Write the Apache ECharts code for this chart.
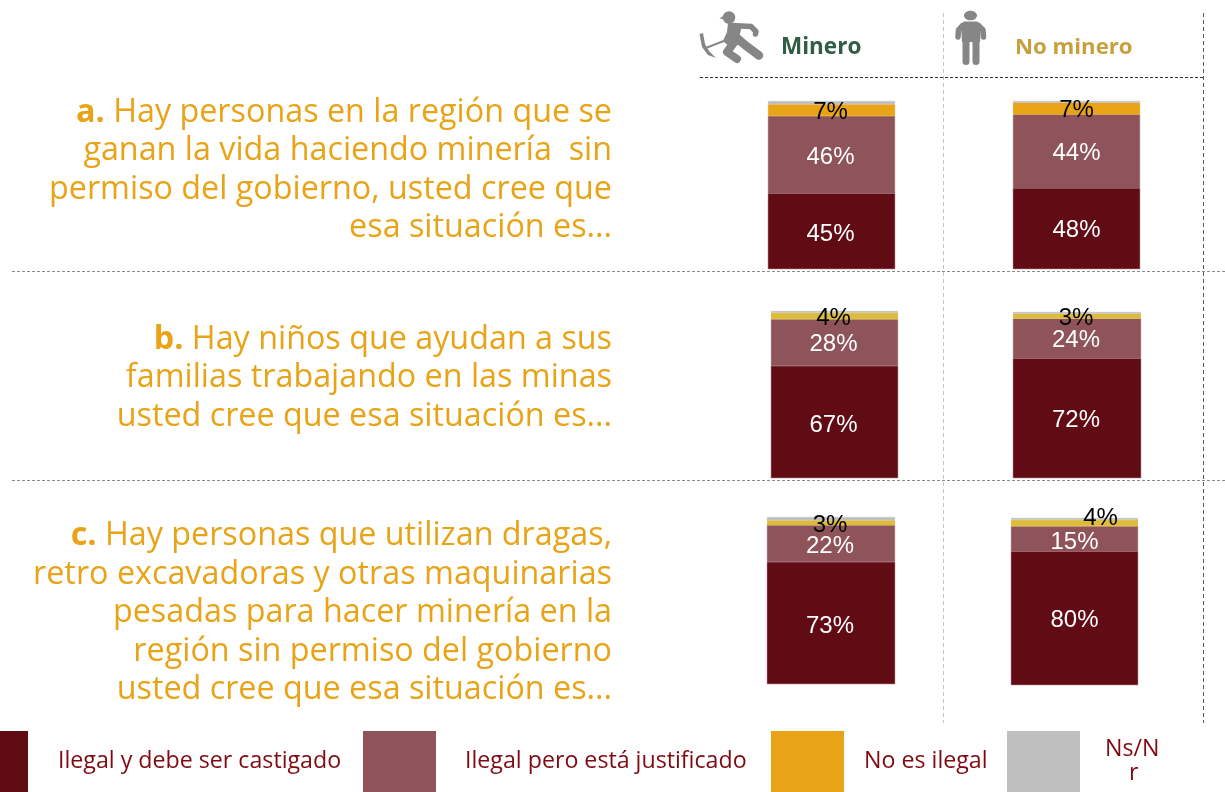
<!DOCTYPE html>
<html><head><meta charset="utf-8">
<style>html,body{margin:0;padding:0;background:#fff}#c{width:1225px;height:792px}</style>
<script src="https://cdn.jsdelivr.net/npm/echarts@6/dist/echarts.min.js"></script>
</head><body><div id="c"></div>
<script>
const seriesNames = ['Ilegal y debe ser castigado','Ilegal pero está justificado','No es ilegal','Ns/Nr'];
const categories = ['Minero','No minero'];
const aMinero = [45,46,7,2];
const aNoMinero = [48,44,7,1];
const bMinero = [67,28,4,1];
const bNoMinero = [72,24,3,1];
const cMinero = [73,22,3,2];
const cNoMinero = [80,15,4,1];
const colors = ['#610B15','#8F545A','#E8A317','#BFBFBF'];
const yellow = '#DDBB3B';
const questionA = ['a.|Hay personas en la región que se','ganan la vida haciendo minería  sin','permiso del gobierno, usted cree que','esa situación es...'];
const questionB = ['b.|Hay niños que ayudan a sus','familias trabajando en las minas','usted cree que esa situación es...'];
const questionC = ['c.|Hay personas que utilizan dragas,','retro excavadoras y otras maquinarias','pesadas para hacer minería en la','región sin permiso del gobierno','usted cree que esa situación es...'];

const panels = [
 {cat:0,vals:aMinero,box:[768,101,127,168],third:colors[2],wide:0,off:[[-1,3],[-1,3],[-1,2]]},
 {cat:1,vals:aNoMinero,box:[1013,101,127,168],third:colors[2],wide:0,off:[[0,2],[0,2],[0,2]]},
 {cat:0,vals:bMinero,box:[771,311,127,167],third:yellow,wide:1,off:[[-1,3],[-1,2],[-1,2]]},
 {cat:1,vals:bNoMinero,box:[1013,312,128,166],third:yellow,wide:0,off:[[-1,2],[-1,2],[-1,2]]},
 {cat:0,vals:cMinero,box:[767,517,128,167],third:yellow,wide:0,off:[[-1,3],[-1,3],[-1,3]]},
 {cat:1,vals:cNoMinero,box:[1011,518,127,167],third:yellow,wide:1,off:[[0,2],[0,3],[26,-5]]}
];
const grids=[],xAxes=[],yAxes=[],series=[];
panels.forEach((p,i)=>{
  grids.push({left:p.box[0],top:p.box[1],width:p.box[2],height:p.box[3],containLabel:false});
  xAxes.push({gridIndex:i,type:'category',data:[categories[p.cat]],show:false});
  yAxes.push({gridIndex:i,type:'value',min:0,max:100,show:false});
  p.vals.forEach((v,s)=>{
    const col=s===2?p.third:colors[s];
    series.push({
      name:seriesNames[s],type:'bar',stack:'p'+i,xAxisIndex:i,yAxisIndex:i,barWidth:'100%',
      itemStyle:{color:colors[s]},
      data:[{value:v,itemStyle:{color:col,borderColor:col,borderWidth:(s===2&&p.wide)?1:0.5}}],
      label:{show:s<3,position:'inside',formatter:'{c}%',fontFamily:'Liberation Sans',fontSize:24,
        color:s===2?'#000':'#fff',offset:s<3?p.off[s]:[0,0]},
      z:2
    });
  });
});
function textLines(lines,firstY,step){
  return lines.map((l,i)=>{
    const parts=l.split('|');
    const txt=parts.length>1?'{b|'+parts[0]+'} '+parts[1]:l;
    return {type:'text',x:612,y:firstY+i*step,style:{
      text:txt,align:'right',verticalAlign:'middle',fontFamily:'Open Sans',fontSize:32.3,fill:'#E8A317',
      rich:{b:{fontFamily:'Open Sans',fontWeight:'bold',fontSize:32.3,fill:'#E8A317'}}}};
  });
}
function line(x1,y1,x2,y2,c,w,d){return {type:'line',shape:{x1,y1,x2,y2},style:{stroke:c,lineWidth:w,lineDash:d},silent:true};}
const grey='#868686';
function stroke(points,w){return {type:'polyline',shape:{points},style:{stroke:grey,lineWidth:w,fill:null,lineCap:'round',lineJoin:'round'},silent:true};}
function poly(points){return {type:'polygon',shape:{points},style:{fill:grey},silent:true};}
const icons=[
 // person
 {type:'ellipse',shape:{cx:970.5,cy:15.5,rx:6.5,ry:4.8},style:{fill:grey}},
 poly([[964,21.5],[977,21.5],[981,24],[980,42],[962,42],[961,24]]),
 stroke([[962,26],[958.5,30],[958,37]],5.5),
 stroke([[979,26],[983,30],[983.5,37]],5.5),
 stroke([[966,40],[966,61.5]],7),
 stroke([[976,40],[976,61.5]],7),
 // miner
 {type:'circle',shape:{cx:729,cy:17.5,r:6.3},style:{fill:grey}},
 poly([[719.5,18.5],[726,14],[727,20]]),
 poly([[728,23],[742,25],[739,38],[745,42],[731,48],[723,41],[727,32]]),
 stroke([[732,25.5],[751,26.5],[756,31.5],[755.5,34]],5.5),
 stroke([[737,38],[745,45],[759,55.5]],8.5),
 stroke([[733,44],[727,52],[737,59]],8),
 stroke([[707,47.5],[725,40.5]],2),
 poly([[699.5,34],[703,33],[705,44],[709,51],[716,58],[708,55],[702,47]])
];
const graphic=[
 ...textLines(questionA,113,38.3),
 ...textLines(questionB,339.5,38.5),
 ...textLines(questionC,536,38.5),
 line(700,77.5,1203,77.5,'#333',1,[3,2]),
 line(12,271.5,1225,271.5,'#8c8c8c',1,[3,2]),
 line(12,480.5,1225,480.5,'#8c8c8c',1,[3,2]),
 line(943.5,13,943.5,723,'#c4c4c4',1,[4,3]),
 line(1203.5,13,1203.5,723,'#595959',1,[4,3]),
 {type:'text',x:781,y:48,style:{text:categories[0],fontFamily:'Open Sans',fontWeight:'bold',fontSize:22.5,fill:'#2F5D46',verticalAlign:'middle'}},
 {type:'text',x:1015,y:48,style:{text:categories[1],fontFamily:'Open Sans',fontWeight:'bold',fontSize:22.2,fill:'#C5A03C',verticalAlign:'middle'}},
 ...icons
];
const lx=[-45,363,771,1007];
const legend=seriesNames.map((n,i)=>({
  data:[{name:n,icon:'rect'}],left:lx[i],top:731,padding:0,orient:'horizontal',itemWidth:73,itemHeight:61,selectedMode:false,
  itemStyle:{borderWidth:0},
  formatter:i===3?'Ns/N\n    r':'{name}',
  textStyle:{fontFamily:'Open Sans',fontSize:23.2,color:'#7F0A12',padding:[0,0,0,[25,24,15,20][i]],lineHeight:24}
}));
const chart=echarts.init(document.getElementById('c'),null,{renderer:'canvas'});
chart.setOption({animation:false,backgroundColor:'#fff',grid:grids,xAxis:xAxes,yAxis:yAxes,series,legend,graphic:{elements:graphic},tooltip:{show:false}});
</script></body></html>
